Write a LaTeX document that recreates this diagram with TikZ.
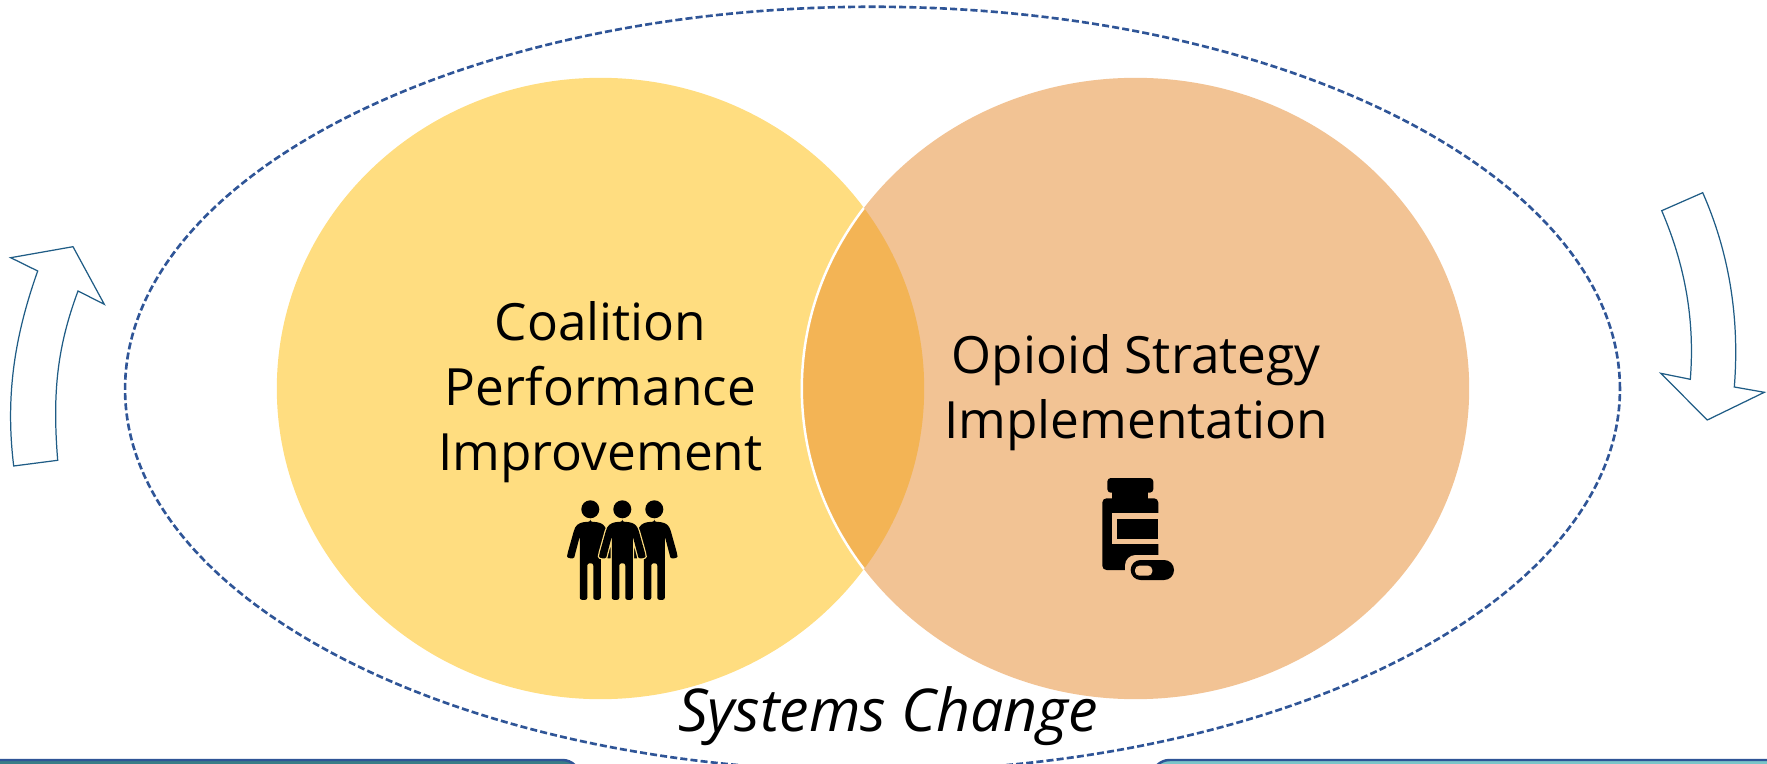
\documentclass[tikz,border=0pt]{standalone}
\usepackage{fontspec}
\setmainfont{Open Sans}
\usetikzlibrary{shapes.geometric}

\definecolor{coalitionfill}{HTML}{FFDD80}
\definecolor{opioidfill}{HTML}{F2C394}
\definecolor{overlapfill}{HTML}{F3B455}
\definecolor{ringblue}{HTML}{2F5597}
\definecolor{arrowblue}{HTML}{1F5C85}
\definecolor{barleft}{HTML}{3A7D87}
\definecolor{barright}{HTML}{7AC5C9}

\tikzset{
	circletext/.style={align=center, font=\fontsize{14.6}{18}\selectfont},
	ringline/.style={draw=ringblue, line width=0.75pt, dash pattern=on 2pt off 0.9pt},
	bendarrow/.style={draw=arrowblue, line width=0.35pt, line join=miter},
	bottombar/.style={draw=ringblue, line width=0.7pt, rounded corners=5pt},
	person/.pic={
		\fill [pic actions] (0,0) circle [radius=0.09cm];
		\path [pic actions, rounded corners=0.6pt]
			(0,12.5) .. controls (8,12.5) and (13,14) .. (16,20) -- (23,45)
			.. controls (23.5,49) and (16.5,50) .. (15.5,46) -- (10.5,27) -- (10.5,90.5) -- (3,90.5) -- (3,54)
			-- (-3,54) -- (-3,90.5) -- (-10.5,90.5) -- (-10.5,27) -- (-15.5,46)
			.. controls (-16.5,50) and (-23.5,49) .. (-23,45) -- (-16,20)
			.. controls (-13,14) and (-8,12.5) .. (0,12.5) -- cycle;
	}
}

\begin{document}
\begin{tikzpicture}[x=0.01cm, y=-0.01cm]
	\useasboundingbox (0,0) rectangle (1767,764);
	\clip (0,0) rectangle (1767,764);

	\path [bottombar, fill=barleft] (-40,760) rectangle (580,820);
	\path [bottombar, fill=barright] (1152,760) rectangle (1810,820);

	\path [ringline] (872.5,389) ellipse [x radius=7.47cm, y radius=3.82cm];

	% the two circles and their overlap
	\fill [coalitionfill] (600.5,388.5) ellipse [x radius=3.235cm, y radius=3.105cm];
	\fill [opioidfill] (1135.5,388.5) ellipse [x radius=3.335cm, y radius=3.105cm];
	\begin{scope}
		\clip (1135.5,388.5) ellipse [x radius=3.335cm, y radius=3.105cm];
		\fill [overlapfill] (600.5,388.5) ellipse [x radius=3.235cm, y radius=3.105cm];
	\end{scope}
	\begin{scope}
		\clip (600.5,388.5) ellipse [x radius=3.235cm, y radius=3.105cm];
		\draw [white, line width=0.7pt] (1135.5,388.5) ellipse [x radius=3.335cm, y radius=3.105cm];
	\end{scope}

	\node [circletext] (coalition) at (600.5,392) {Coalition\\[0.5pt]Performance\\[0.5pt]Improvement};
	\node [circletext] (opioid) at (1136,392.5) {Opioid Strategy\\[0.5pt]Implementation};
	\node [font=\fontsize{16.8}{20}\selectfont\itshape] (systems) at (888,716) {Systems Change};

	% people
	\path (590.3,509.3) pic [fill=black] {person};
	\path (654.3,509.3) pic [fill=black] {person};
	\fill [black] (600,530) rectangle (613,556);
	\fill [black] (632,530) rectangle (645,556);
	\path (622.3,509.3) pic [draw=coalitionfill, line width=0.7pt] {person};
	\path (622.3,509.3) pic [fill=black] {person};

	% bottle
	\fill [black, rounded corners=1pt] (1107.3,478) rectangle (1153.3,492.7);
	\fill [black] (1112.3,490) rectangle (1148.3,500);
	\fill [black, rounded corners=1.2pt] (1102.3,570) -- (1102.3,498.3) -- (1158.3,498.3) -- (1158.3,570) -- cycle;
	\fill [opioidfill] (1112.3,513.3) rectangle (1160,544);
	\fill [black] (1117.3,519) rectangle (1158.3,539.3);
	\fill [opioidfill, rounded corners=3pt] (1125,585) -- (1125,555) -- (1180,555) -- (1180,585) -- cycle;
	\fill [black, rounded corners=2.8pt] (1130.7,560) rectangle (1174,580);
	\fill [opioidfill, rounded corners=1.2pt] (1152.3,565.7) -- (1135,565.7) -- (1135,575.7) -- (1152.3,575.7) -- cycle;

	% arrows
	\path [bendarrow] (13.7,466) -- (57.7,460.3) .. controls (52,390) and (58,345) .. (78,291)
		-- (104.3,304.3) -- (73,246.7) -- (10.7,257.7) -- (37.7,271)
		.. controls (15,335) and (5,395) .. (13.7,466) -- cycle;
	\path [bendarrow] (1661.7,210.7) -- (1702.7,192.7) .. controls (1728,250) and (1740,315) .. (1734.3,387)
		-- (1764.3,392.3) -- (1707.3,420) -- (1660.7,373.3) -- (1690.3,379.3)
		.. controls (1695,320) and (1685,265) .. (1661.7,210.7) -- cycle;
\end{tikzpicture}
\end{document}
